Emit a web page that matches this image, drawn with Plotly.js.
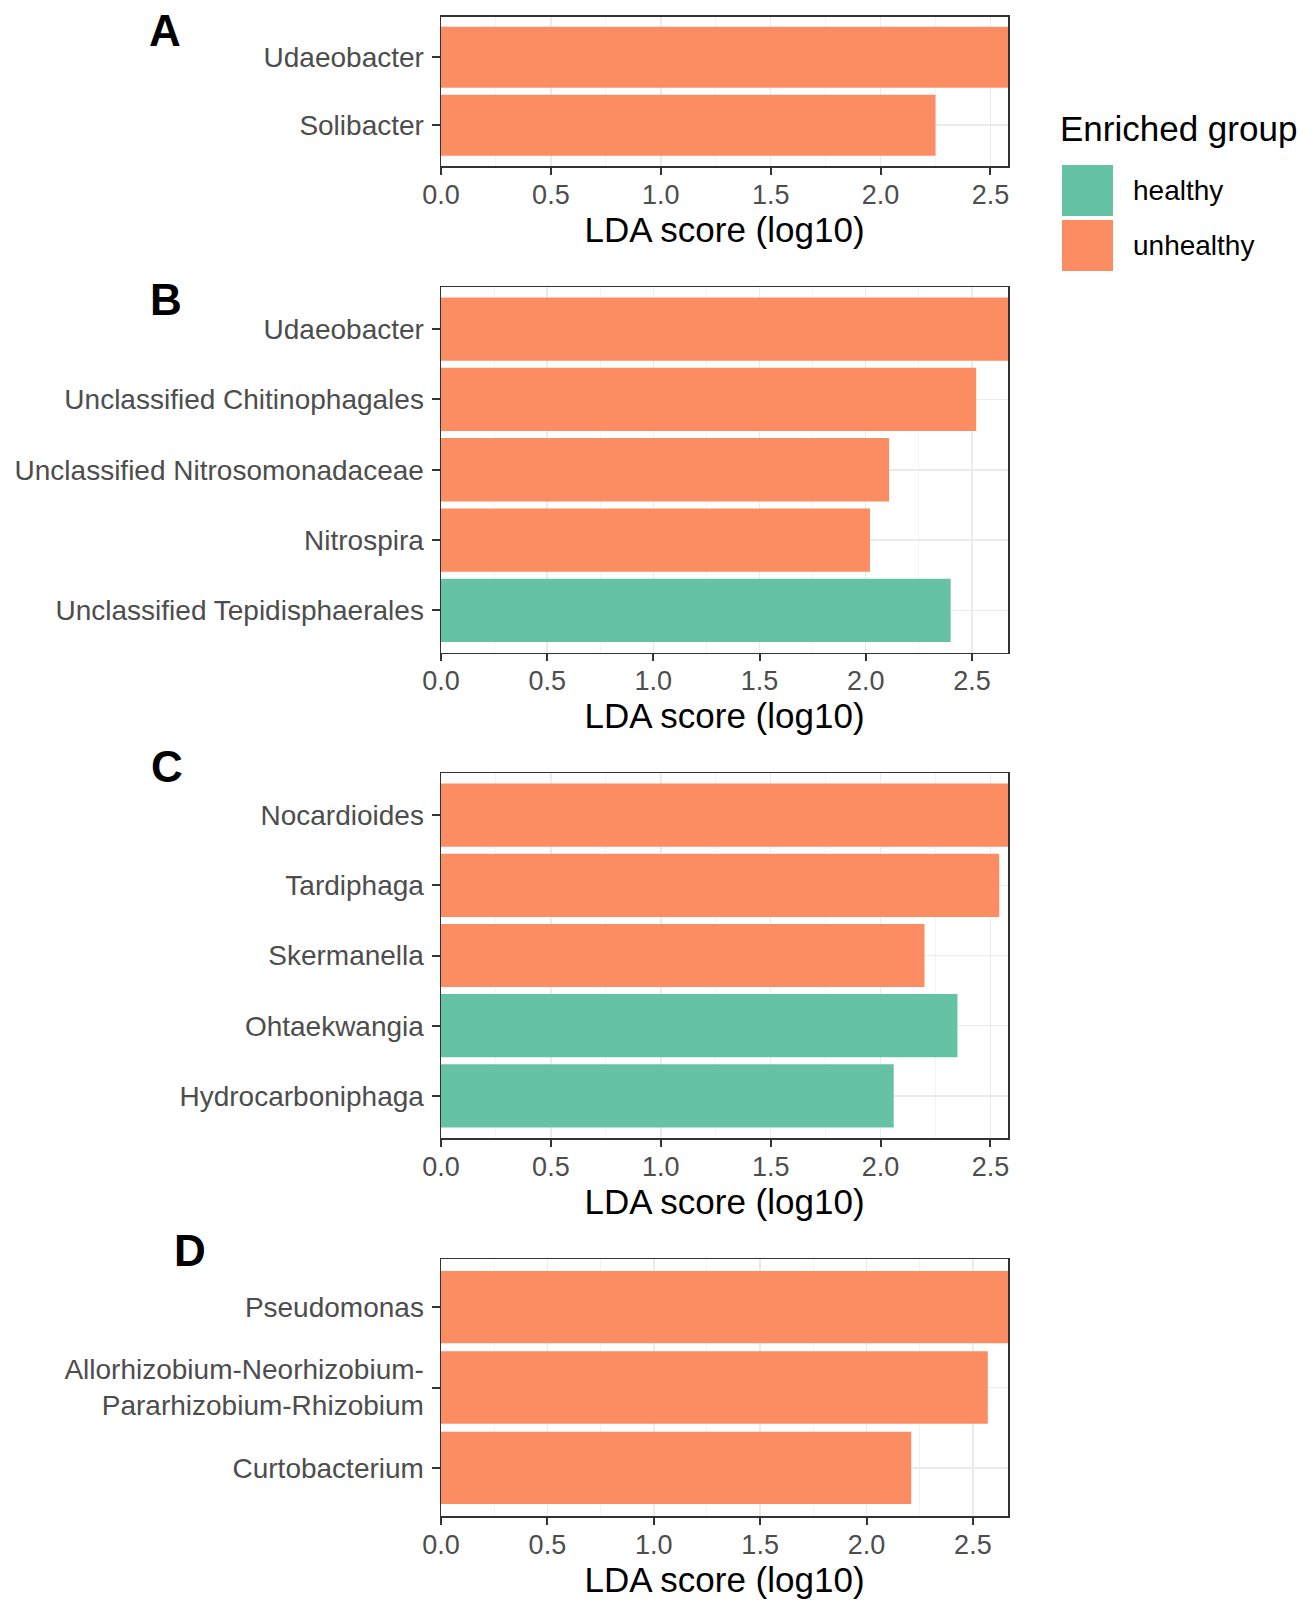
<!DOCTYPE html>
<html>
<head>
<meta charset="utf-8">
<script src="https://cdn.plot.ly/plotly-3.0.1.min.js"></script>
<style>
  html, body { margin: 0; padding: 0; background: #ffffff; }
  #chart { width: 1312px; height: 1600px; }
</style>
</head>
<body>
<div id="chart"></div>
<script>
// ---- Data (top-to-bottom order as displayed) ----
const catsA = ['Udaeobacter', 'Solibacter'];
const ldaA  = [2.58, 2.25];
const grpA  = ['unhealthy', 'unhealthy'];

const catsB = ['Udaeobacter', 'Unclassified Chitinophagales', 'Unclassified Nitrosomonadaceae', 'Nitrospira', 'Unclassified Tepidisphaerales'];
const ldaB  = [2.67, 2.52, 2.11, 2.02, 2.40];
const grpB  = ['unhealthy', 'unhealthy', 'unhealthy', 'unhealthy', 'healthy'];

const catsC = ['Nocardioides', 'Tardiphaga', 'Skermanella', 'Ohtaekwangia', 'Hydrocarboniphaga'];
const ldaC  = [2.58, 2.54, 2.20, 2.35, 2.06];
const grpC  = ['unhealthy', 'unhealthy', 'unhealthy', 'healthy', 'healthy'];

const catsD = ['Pseudomonas', 'Allorhizobium-Neorhizobium-<br>Pararhizobium-Rhizobium', 'Curtobacterium'];
const ldaD  = [2.665, 2.57, 2.21];
const grpD  = ['unhealthy', 'unhealthy', 'unhealthy'];

const groups = ['healthy', 'unhealthy'];
const groupColors = { healthy: '#66C2A5', unhealthy: '#FC8D62' };
const panelTags = ['A', 'B', 'C', 'D'];
const xTicks = [0, 0.5, 1.0, 1.5, 2.0, 2.5];
const xTitle = 'LDA score (log10)';
const legendTitle = 'Enriched group';

// ---- Layout geometry ----
const W = 1312, H = 1600;
const FONT = 'Liberation Sans, Arial, sans-serif';
const xDom = [441 / W, 1008 / W];
const panelsPx = [[16.5, 166], [287, 652.5], [773, 1138], [1259, 1516]]; // top, bottom in px
const tagPos = [[165, 30], [166, 299], [167, 766], [190, 1250]];

const panels = [
  { cats: catsA, vals: ldaA, grp: grpA },
  { cats: catsB, vals: ldaB, grp: grpB },
  { cats: catsC, vals: ldaC, grp: grpC },
  { cats: catsD, vals: ldaD, grp: grpD }
];

const data = [];
const layout = {
  width: W, height: H,
  margin: { l: 0, r: 0, t: 0, b: 0 },
  paper_bgcolor: '#ffffff',
  plot_bgcolor: '#ffffff',
  showlegend: false,
  font: { family: FONT, color: '#4D4D4D' },
  annotations: [],
  shapes: []
};

panels.forEach((p, i) => {
  const n = i === 0 ? '' : String(i + 1);
  data.push({
    type: 'bar',
    orientation: 'h',
    x: p.vals,
    y: p.cats,
    width: 0.9,
    marker: { color: p.grp.map(g => groupColors[g]), line: { width: 0 } },
    xaxis: 'x' + n,
    yaxis: 'y' + n,
    hoverinfo: 'x+y'
  });
  const top = panelsPx[i][0], bot = panelsPx[i][1];
  layout['xaxis' + n] = {
    domain: xDom,
    anchor: 'y' + n,
    range: [0, Math.max(...p.vals)],
    tickvals: xTicks,
    ticktext: xTicks.map(v => v.toFixed(1)),
    ticks: 'outside', ticklen: 7, tickwidth: 2, tickcolor: '#333333',
    ticklabelstandoff: -3,
    tickfont: { size: 27, color: '#4D4D4D', family: FONT },
    showline: true, mirror: true, linecolor: '#333333', linewidth: 1.5,
    showgrid: true, gridcolor: '#EBEBEB', gridwidth: 1.5,
    minor: { dtick: 0.25, tick0: 0, showgrid: true, gridcolor: '#F3F3F3', gridwidth: 1 },
    zeroline: false,
    automargin: false,
    fixedrange: true,
    title: { text: xTitle, font: { size: 35, color: '#000000', family: FONT }, standoff: 6 }
  };
  layout['yaxis' + n] = {
    domain: [1 - bot / H, 1 - top / H],
    anchor: 'x' + n,
    type: 'category',
    categoryorder: 'array',
    categoryarray: p.cats,
    range: [p.cats.length - 0.4, -0.6],
    ticks: 'outside', ticklen: 8, tickwidth: 2, tickcolor: '#333333',
    ticklabelstandoff: 2,
    tickfont: { size: 28, color: '#4D4D4D', family: FONT },
    showline: true, mirror: true, linecolor: '#333333', linewidth: 1.5,
    showgrid: true, gridcolor: '#EBEBEB', gridwidth: 1.5,
    zeroline: false,
    automargin: false,
    fixedrange: true
  };
  layout.annotations.push({
    xref: 'paper', yref: 'paper',
    x: tagPos[i][0] / W, y: 1 - tagPos[i][1] / H,
    xanchor: 'center', yanchor: 'middle',
    text: '<b>' + panelTags[i] + '</b>',
    showarrow: false,
    font: { size: 44, color: '#000000', family: FONT }
  });
});

// ---- Legend (drawn manually to match ggplot key size) ----
layout.annotations.push({
  xref: 'paper', yref: 'paper',
  x: 1058 / W, y: 1 - 129 / H,
  xanchor: 'left', yanchor: 'middle',
  text: legendTitle, showarrow: false,
  font: { size: 35, color: '#000000', family: FONT }
});
const keyTops = [165, 220];
groups.forEach((g, k) => {
  layout.shapes.push({
    type: 'rect', xref: 'paper', yref: 'paper',
    x0: 1062 / W, x1: 1113 / W,
    y0: 1 - (keyTops[k] + 51) / H, y1: 1 - keyTops[k] / H,
    fillcolor: groupColors[g], line: { width: 0 }
  });
  layout.annotations.push({
    xref: 'paper', yref: 'paper',
    x: 1131 / W, y: 1 - (keyTops[k] + 25.5) / H,
    xanchor: 'left', yanchor: 'middle',
    text: g, showarrow: false,
    font: { size: 28, color: '#000000', family: FONT }
  });
});

Plotly.newPlot('chart', data, layout, { displayModeBar: false, staticPlot: true });
</script>
</body>
</html>
